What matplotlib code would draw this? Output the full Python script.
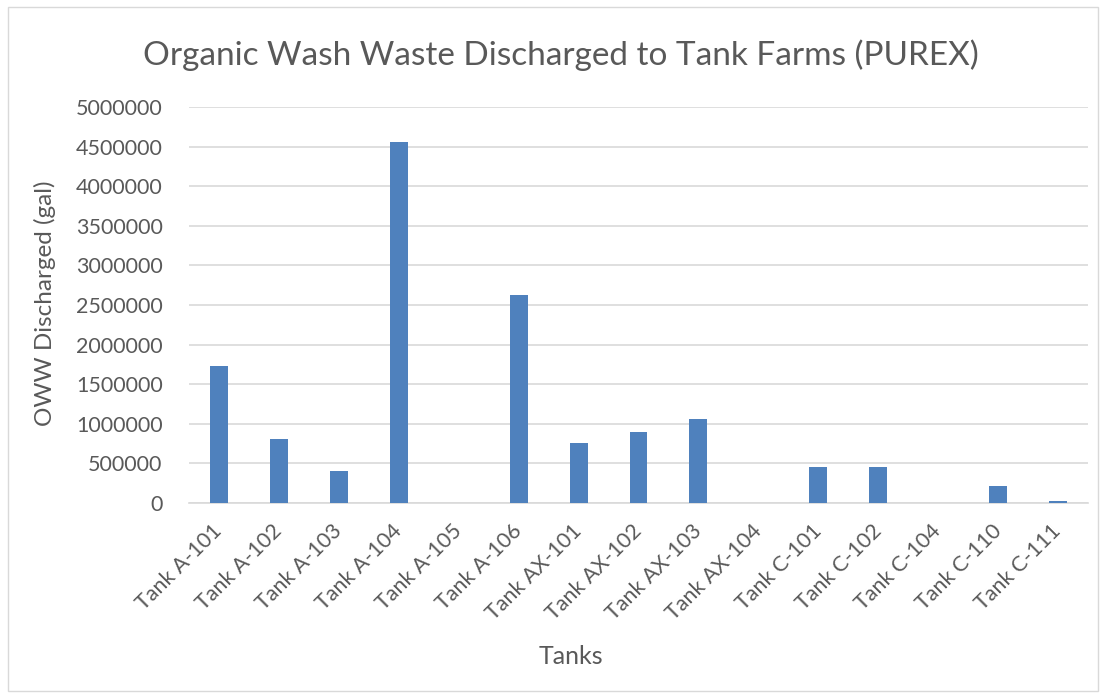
import matplotlib
matplotlib.use("Agg")
import matplotlib.pyplot as plt
from matplotlib.patches import Rectangle

tanks = ["Tank A-101", "Tank A-102", "Tank A-103", "Tank A-104", "Tank A-105",
         "Tank A-106", "Tank AX-101", "Tank AX-102", "Tank AX-103", "Tank AX-104",
         "Tank C-101", "Tank C-102", "Tank C-104", "Tank C-110", "Tank C-111"]
oww_gal = [1730000, 810000, 405000, 4560000, 0,
           2630000, 760000, 895000, 1055000, 0,
           460000, 460000, 0, 220000, 30000]
yticks = [0, 500000, 1000000, 1500000, 2000000, 2500000, 3000000,
          3500000, 4000000, 4500000, 5000000]

plt.rcParams['font.family'] = ['Lato', 'DejaVu Sans']
txt = '#595959'

fig = plt.figure(figsize=(11.06, 6.98), dpi=100)
fig.patches.append(Rectangle((0.007, 0.01), 0.986, 0.98, transform=fig.transFigure,
                             fill=False, edgecolor='#D9D9D9', linewidth=1))
W, H = 1106, 698
left, right, top, bottom = 189, 1088, 107, 503
ax = fig.add_axes([left / W, 1 - bottom / H, (right - left) / W, (bottom - top) / H])

x = list(range(len(tanks)))
ax.bar(x, oww_gal, width=0.3, color='#4F81BD', zorder=3)
ax.set_xlim(-0.5, len(tanks) - 0.5)
ax.set_ylim(0, 5000000)
ax.set_yticks(yticks)
ax.set_yticklabels([str(v) for v in yticks], color=txt, fontsize=15.5)
ax.set_xticks(x)
ax.set_xticklabels(tanks, rotation=45, ha='right', va='center', rotation_mode='anchor',
                   color=txt, fontsize=15.5)
ax.tick_params(axis='y', length=0, pad=19)
ax.tick_params(axis='x', length=0, pad=18)
ax.grid(axis='y', color='#D9D9D9', linewidth=1.2, zorder=0)
for s in ['top', 'right', 'left']:
    ax.spines[s].set_visible(False)
ax.spines['bottom'].set_color('#D9D9D9')
ax.spines['bottom'].set_linewidth(1.2)

fig.text(561 / W, 1 - 55 / H, "Organic Wash Waste Discharged to Tank Farms (PUREX)",
         ha='center', va='center', fontsize=24, color=txt)
fig.text(45 / W, 1 - 303 / H, "OWW Discharged (gal)", rotation=90,
         ha='center', va='center', fontsize=17.5, color=txt)
fig.text(571 / W, 1 - 657 / H, "Tanks", ha='center', va='center', fontsize=18, color=txt)

fig.savefig("out.png", dpi=100)
